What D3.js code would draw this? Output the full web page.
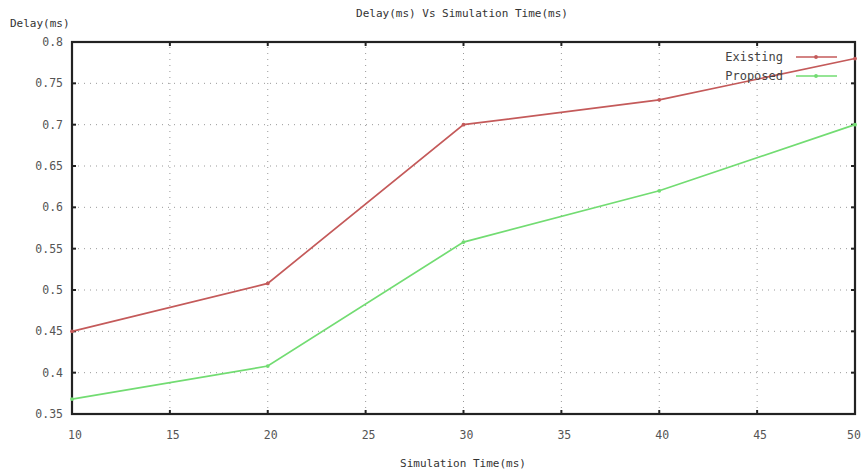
<!DOCTYPE html>
<html>
<head>
<meta charset="utf-8">
<script src="https://cdn.jsdelivr.net/npm/d3@7"></script>
<style>
  body { margin: 0; background: #fff; }
  svg { display: block; }
  text { font-family: "DejaVu Sans Mono", "Liberation Mono", monospace; }
  .tick-label { fill: #555; font-size: 11.5px; }
  .grid { stroke: #999; stroke-dasharray: 1 5; stroke-width: 1; }
</style>
</head>
<body>
<svg id="chart" width="863" height="472"></svg>
<script>
// Chart data
const simTime = [10, 20, 30, 40, 50];
const existing = [0.45, 0.508, 0.70, 0.73, 0.78];
const proposed = [0.368, 0.408, 0.558, 0.62, 0.70];
const xTicks = [10, 15, 20, 25, 30, 35, 40, 45, 50];
const yTicks = [0.35, 0.4, 0.45, 0.5, 0.55, 0.6, 0.65, 0.7, 0.75, 0.8];
const seriesNames = ["Existing", "Proposed"];
const seriesColors = ["#c45a5a", "#72dc72"];

const svg = d3.select("#chart");
const margin = { left: 72, top: 42, right: 8, bottom: 58 };
const width = 863, height = 472;

const x = d3.scaleLinear().domain([10, 50]).range([margin.left, width - margin.right]);
const y = d3.scaleLinear().domain([0.35, 0.8]).range([height - margin.bottom, margin.top]);

// Grid lines (dotted)
const grid = svg.append("g");
grid.selectAll(".gx")
  .data(xTicks.slice(1, -1))
  .enter().append("line")
  .attr("class", "grid")
  .attr("x1", d => x(d)).attr("x2", d => x(d))
  .attr("y1", y(0.35)).attr("y2", y(0.8));
grid.selectAll(".gy")
  .data(yTicks.slice(1, -1))
  .enter().append("line")
  .attr("class", "grid")
  .attr("x1", x(10)).attr("x2", x(50))
  .attr("y1", d => y(d)).attr("y2", d => y(d));

// Frame
svg.append("rect")
  .attr("x", x(10)).attr("y", y(0.8))
  .attr("width", x(50) - x(10)).attr("height", y(0.35) - y(0.8))
  .attr("fill", "none").attr("stroke", "#222").attr("stroke-width", 2.2);

// Tick marks on all four sides
const tickG = svg.append("g").attr("stroke", "#222").attr("stroke-width", 2);
xTicks.forEach(t => {
  tickG.append("line").attr("x1", x(t)).attr("x2", x(t)).attr("y1", y(0.35)).attr("y2", y(0.35) - 4);
  tickG.append("line").attr("x1", x(t)).attr("x2", x(t)).attr("y1", y(0.8)).attr("y2", y(0.8) + 4);
});
yTicks.forEach(t => {
  tickG.append("line").attr("x1", x(10)).attr("x2", x(10) + 4).attr("y1", y(t)).attr("y2", y(t));
  tickG.append("line").attr("x1", x(50)).attr("x2", x(50) - 4).attr("y1", y(t)).attr("y2", y(t));
});

// Tick labels
svg.append("g").selectAll("text")
  .data(xTicks)
  .enter().append("text")
  .attr("class", "tick-label")
  .attr("x", d => Math.min(x(d) + 3, width - 9))
  .attr("y", y(0.35) + 25)
  .attr("text-anchor", "middle")
  .text(d => d);

svg.append("g").selectAll("text")
  .data(yTicks)
  .enter().append("text")
  .attr("class", "tick-label")
  .attr("x", x(10) - 9)
  .attr("y", d => y(d) + 4)
  .attr("text-anchor", "end")
  .text(d => d);

// Titles
svg.append("text")
  .attr("x", 462).attr("y", 17)
  .attr("text-anchor", "middle")
  .attr("font-size", 11).attr("fill", "#333")
  .text("Delay(ms) Vs Simulation Time(ms)");

svg.append("text")
  .attr("x", 10).attr("y", 27)
  .attr("font-size", 11).attr("fill", "#333")
  .text("Delay(ms)");

svg.append("text")
  .attr("x", 463).attr("y", 467)
  .attr("text-anchor", "middle")
  .attr("font-size", 11).attr("fill", "#333")
  .text("Simulation Time(ms)");

// Lines
const line = d3.line().x((d, i) => x(simTime[i])).y(d => y(d));
[existing, proposed].forEach((vals, k) => {
  svg.append("path")
    .datum(vals)
    .attr("fill", "none")
    .attr("stroke", seriesColors[k])
    .attr("stroke-width", 1.7)
    .attr("d", line);
  svg.append("g").selectAll("circle")
    .data(vals)
    .enter().append("circle")
    .attr("cx", (d, i) => x(simTime[i]))
    .attr("cy", d => y(d))
    .attr("r", 1.9)
    .attr("fill", seriesColors[k]);
});

// Legend
const legend = svg.append("g");
seriesNames.forEach((name, k) => {
  const ly = 57 + k * 19;
  legend.append("text")
    .attr("x", 783).attr("y", ly + 4)
    .attr("text-anchor", "end")
    .attr("font-size", 12).attr("fill", "#444")
    .text(name);
  legend.append("line")
    .attr("x1", 796).attr("x2", 837)
    .attr("y1", ly).attr("y2", ly)
    .attr("stroke", seriesColors[k]).attr("stroke-width", 1.7);
  legend.append("circle")
    .attr("cx", 816).attr("cy", ly).attr("r", 1.9)
    .attr("fill", seriesColors[k]);
});
</script>
</body>
</html>
